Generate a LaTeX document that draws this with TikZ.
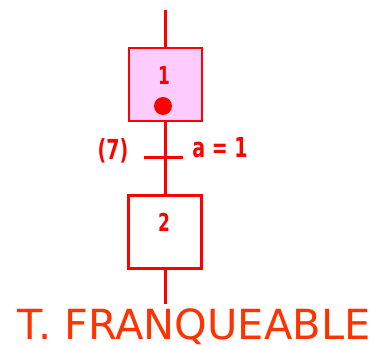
\documentclass[tikz,border=0pt]{standalone}
\usepackage{fontspec}
\setmainfont{DejaVu Sans}
\usetikzlibrary{positioning}
\definecolor{grafred}{RGB}{255,0,0}
\definecolor{steppink}{RGB}{255,204,255}
\definecolor{titleorange}{RGB}{255,51,0}
\newcommand{\tallbox}[1]{\scalebox{1}[1.45]{#1}}
\tikzset{
    stepbox/.style={draw=grafred, minimum width=73pt, minimum height=73pt, inner sep=0pt},
    lbl/.style={text=grafred, font=\bfseries\fontsize{17}{17}\selectfont, inner sep=0pt},
}
\begin{document}
\begin{tikzpicture}[x=1pt, y=-1pt]
    \useasboundingbox (0,0) rectangle (376,347);

    % Etapas
    \node[stepbox, fill=steppink, line width=2pt] (step1) at (165,84.5) {};
    \node[stepbox, line width=3pt] (step2) at (165,232) {};
    \node[lbl] (num1) at (164,76) {\tallbox{1}};
    \node[lbl] (num2) at (164,222) {\tallbox{2}};
    \fill[grafred] (163,106) circle (9);

    % Liaisons
    \coordinate (top) at (165,10);
    \coordinate (bottom) at (165,304);
    \draw[grafred, line width=3pt] (top) -- (step1.north);
    \draw[grafred, line width=3pt] (step1.south) -- (step2.north);
    \draw[grafred, line width=3pt] (step2.south) -- (bottom);

    % Transition
    \coordinate (trans) at (165,158);
    \draw[grafred, line width=3pt] ([xshift=-21pt]trans) -- ([xshift=18pt]trans);
    \node[lbl, font=\bfseries\fontsize{19}{19}\selectfont] (num7) at (113,151) {\tallbox{(7)}};
    \node[lbl, font=\bfseries\fontsize{19}{19}\selectfont] (recep) at (220,148) {\tallbox{a = 1}};

    % Titre
    \node[text=titleorange, font=\fontsize{41.5}{41.5}\selectfont, anchor=base, inner sep=0pt] (title) at (194,340) {T. FRANQUEABLE};
\end{tikzpicture}
\end{document}
